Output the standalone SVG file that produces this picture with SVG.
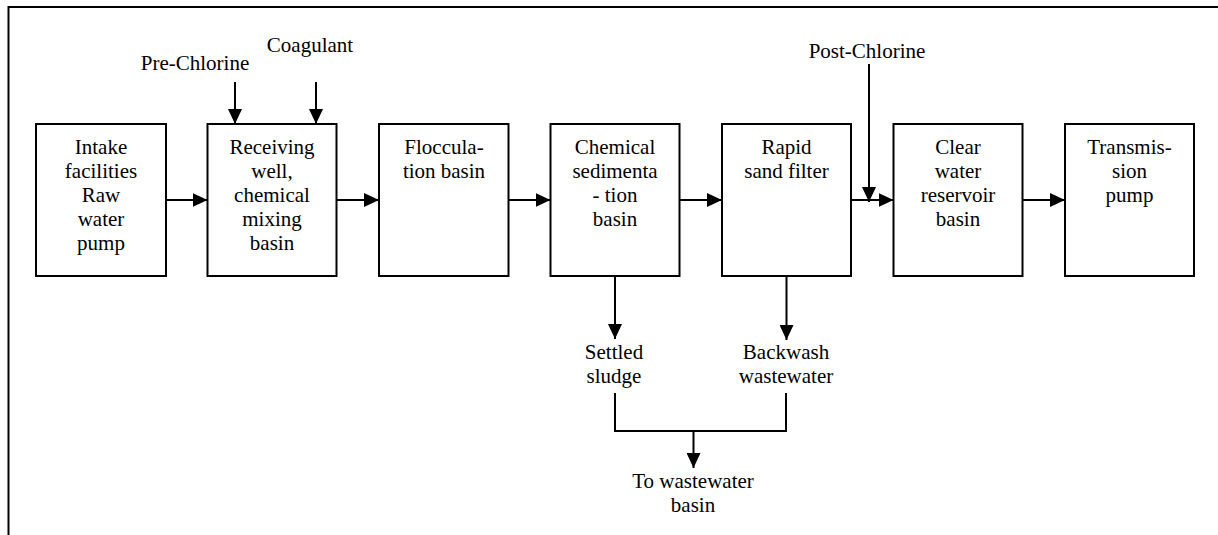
<svg xmlns="http://www.w3.org/2000/svg" width="1218" height="535" viewBox="0 0 1218 535">
<defs>
<marker id="ah" markerWidth="15" markerHeight="14" refX="15" refY="7" orient="auto" markerUnits="userSpaceOnUse">
<path d="M0,0 L15,7 L0,14 Z" fill="#000"/>
</marker>
</defs>
<rect x="0" y="0" width="1218" height="535" fill="#fff"/>
<path d="M8.5,535 V7 H1218" fill="none" stroke="#000" stroke-width="2"/>
<g id="intake"><rect fill="#fff" stroke="#000" stroke-width="2" x="36" y="124" width="130" height="152"/>
<text font-family="Liberation Serif" font-size="21" text-anchor="middle" x="101" y="154">Intake</text><text font-family="Liberation Serif" font-size="21" text-anchor="middle" x="101" y="178">facilities</text><text font-family="Liberation Serif" font-size="21" text-anchor="middle" x="101" y="202">Raw</text><text font-family="Liberation Serif" font-size="21" text-anchor="middle" x="101" y="226">water</text><text font-family="Liberation Serif" font-size="21" text-anchor="middle" x="101" y="250">pump</text></g>
<g id="receiving"><rect fill="#fff" stroke="#000" stroke-width="2" x="207.5" y="124" width="129" height="152"/>
<text font-family="Liberation Serif" font-size="21" text-anchor="middle" x="272" y="154">Receiving</text><text font-family="Liberation Serif" font-size="21" text-anchor="middle" x="272" y="178">well,</text><text font-family="Liberation Serif" font-size="21" text-anchor="middle" x="272" y="202">chemical</text><text font-family="Liberation Serif" font-size="21" text-anchor="middle" x="272" y="226">mixing</text><text font-family="Liberation Serif" font-size="21" text-anchor="middle" x="272" y="250">basin</text></g>
<g id="flocculation"><rect fill="#fff" stroke="#000" stroke-width="2" x="379" y="124" width="129.5" height="152"/>
<text font-family="Liberation Serif" font-size="21" text-anchor="middle" x="444" y="154">Floccula-</text><text font-family="Liberation Serif" font-size="21" text-anchor="middle" x="444" y="178">tion basin</text></g>
<g id="sedimentation"><rect fill="#fff" stroke="#000" stroke-width="2" x="550.5" y="124" width="129" height="152"/>
<text font-family="Liberation Serif" font-size="21" text-anchor="middle" x="615" y="154">Chemical</text><text font-family="Liberation Serif" font-size="21" text-anchor="middle" x="615" y="178">sedimenta</text><text font-family="Liberation Serif" font-size="21" text-anchor="middle" x="615" y="202">- tion</text><text font-family="Liberation Serif" font-size="21" text-anchor="middle" x="615" y="226">basin</text></g>
<g id="filter"><rect fill="#fff" stroke="#000" stroke-width="2" x="722" y="124" width="129" height="152"/>
<text font-family="Liberation Serif" font-size="21" text-anchor="middle" x="786.5" y="154">Rapid</text><text font-family="Liberation Serif" font-size="21" text-anchor="middle" x="786.5" y="178">sand filter</text></g>
<g id="reservoir"><rect fill="#fff" stroke="#000" stroke-width="2" x="893.5" y="124" width="129" height="152"/>
<text font-family="Liberation Serif" font-size="21" text-anchor="middle" x="958" y="154">Clear</text><text font-family="Liberation Serif" font-size="21" text-anchor="middle" x="958" y="178">water</text><text font-family="Liberation Serif" font-size="21" text-anchor="middle" x="958" y="202">reservoir</text><text font-family="Liberation Serif" font-size="21" text-anchor="middle" x="958" y="226">basin</text></g>
<g id="transmission"><rect fill="#fff" stroke="#000" stroke-width="2" x="1065" y="124" width="129" height="152"/>
<text font-family="Liberation Serif" font-size="21" text-anchor="middle" x="1129.5" y="154">Transmis-</text><text font-family="Liberation Serif" font-size="21" text-anchor="middle" x="1129.5" y="178">sion</text><text font-family="Liberation Serif" font-size="21" text-anchor="middle" x="1129.5" y="202">pump</text></g>
<g id="labels">
<text font-family="Liberation Serif" font-size="21" text-anchor="middle" x="195" y="70">Pre-Chlorine</text>
<text font-family="Liberation Serif" font-size="21" text-anchor="middle" x="310" y="52">Coagulant</text>
<text font-family="Liberation Serif" font-size="21" text-anchor="middle" x="867" y="58">Post-Chlorine</text>
<text font-family="Liberation Serif" font-size="21" text-anchor="middle" x="614" y="359">Settled</text><text font-family="Liberation Serif" font-size="21" text-anchor="middle" x="614" y="383">sludge</text>
<text font-family="Liberation Serif" font-size="21" text-anchor="middle" x="786" y="359">Backwash</text><text font-family="Liberation Serif" font-size="21" text-anchor="middle" x="786" y="383">wastewater</text>
<text font-family="Liberation Serif" font-size="21" text-anchor="middle" x="693" y="488">To wastewater</text><text font-family="Liberation Serif" font-size="21" text-anchor="middle" x="693" y="512">basin</text>
</g>
<g id="connectors" fill="none" stroke="#000" stroke-width="2">
<line x1="166" y1="200" x2="207.5" y2="200" marker-end="url(#ah)"/>
<line x1="336.5" y1="200" x2="379" y2="200" marker-end="url(#ah)"/>
<line x1="508.5" y1="200" x2="550.5" y2="200" marker-end="url(#ah)"/>
<line x1="679.5" y1="200" x2="722" y2="200" marker-end="url(#ah)"/>
<line x1="851" y1="200" x2="893.5" y2="200" marker-end="url(#ah)"/>
<line x1="1022.5" y1="200" x2="1065" y2="200" marker-end="url(#ah)"/>
<line x1="235" y1="82" x2="235" y2="124" marker-end="url(#ah)"/>
<line x1="316" y1="82" x2="316" y2="124" marker-end="url(#ah)"/>
<line x1="869" y1="64" x2="869" y2="202" marker-end="url(#ah)"/>
<line x1="615" y1="276" x2="615" y2="339" marker-end="url(#ah)"/>
<line x1="786.5" y1="276" x2="786.5" y2="340" marker-end="url(#ah)"/>
<path d="M615,393 V431 H786 V393"/>
<line x1="693.5" y1="431" x2="693.5" y2="468" marker-end="url(#ah)"/>
</g>
</svg>
